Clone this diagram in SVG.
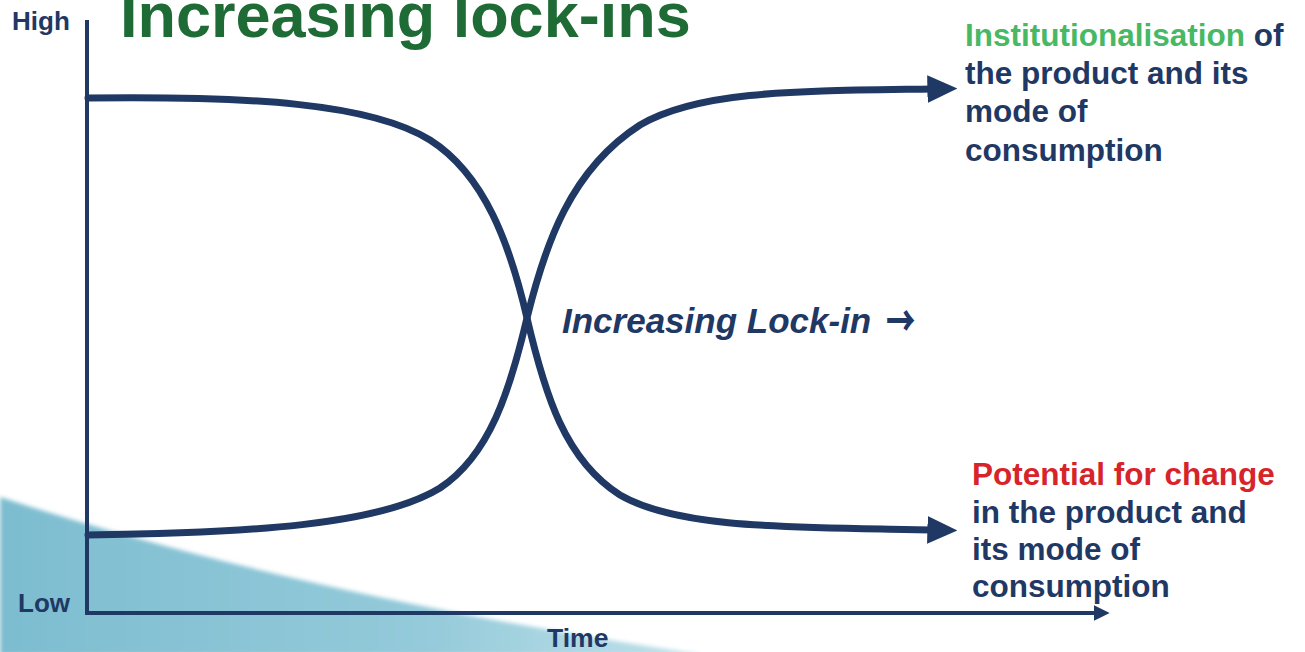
<svg xmlns="http://www.w3.org/2000/svg" width="1305" height="652" viewBox="0 0 1305 652">
  <style>
    .t { font-family: "Liberation Sans", Arial, sans-serif; font-weight: bold; fill: #1f3864; }
    .curve { fill: none; stroke: #1f3864; stroke-width: 7; stroke-linecap: round; }
    .axis { fill: none; stroke: #1f3864; stroke-width: 4; }
  </style>
  <defs>
    <linearGradient id="bg" x1="0" y1="0" x2="1" y2="0">
      <stop offset="0" stop-color="#7dbdd0"/>
      <stop offset="0.6" stop-color="#94cada"/>
      <stop offset="1" stop-color="#c2e2ea"/>
    </linearGradient>
    <filter id="soft" x="-5%" y="-5%" width="110%" height="110%">
      <feGaussianBlur stdDeviation="2"/>
    </filter>
    <marker id="bigArrow" markerUnits="userSpaceOnUse" markerWidth="30" markerHeight="30" viewBox="0 0 26 24" refX="4" refY="12" orient="auto">
      <path d="M0,0 L26,12 L0,24 Z" fill="#1f3864"/>
    </marker>
    <marker id="axisArrow" markerUnits="userSpaceOnUse" markerWidth="16" markerHeight="16" viewBox="0 0 14 14" refX="2" refY="7" orient="auto">
      <path d="M0,0 L14,7 L0,14 Z" fill="#1f3864"/>
    </marker>
  </defs>
  <rect width="1305" height="652" fill="#ffffff"/>
  <path d="M0,497 Q300,595 705,655 L0,655 Z" fill="url(#bg)" filter="url(#soft)"/>

  <g id="title">
    <text class="t" x="120" y="37" font-size="63" style="fill:#1e6b35">Increasing lock-ins</text>
  </g>

  <g id="axes">
    <line class="axis" x1="87" y1="20" x2="87" y2="615"/>
    <line class="axis" x1="85" y1="613" x2="1096" y2="613" marker-end="url(#axisArrow)"/>
    <text class="t" x="12" y="30" font-size="26">High</text>
    <text class="t" x="18" y="612" font-size="26">Low</text>
    <text class="t" x="547" y="647" font-size="26.5">Time</text>
  </g>

  <g id="connectors">
    <path class="curve" d="M88,98 C250,96 370,103 430,140 C485,175 510,245 527,318 C545,395 565,460 620,495 C680,530 800,527 932,530" marker-end="url(#bigArrow)"/>
    <path class="curve" d="M88,535 C250,533 380,525 440,488 C490,455 510,390 527,318 C545,245 570,170 640,125 C700,90 800,91 932,89" marker-end="url(#bigArrow)"/>
  </g>

  <g id="center-label">
    <text class="t" x="562" y="333" font-size="35" font-style="italic">Increasing Lock-in</text>
    <text class="t" transform="translate(886,336) scale(0.7,1)" font-size="42" style="font-family:'Noto Sans CJK SC','DejaVu Sans',sans-serif;font-weight:900">→</text>
  </g>

  <g id="label-institutionalisation">
    <text class="t" x="965" y="46" font-size="31.5"><tspan style="fill:#47b864">Institutionalisation</tspan> of</text>
    <text class="t" x="965" y="84" font-size="31.5">the product and its</text>
    <text class="t" x="965" y="122" font-size="31.5">mode of</text>
    <text class="t" x="965" y="161" font-size="31.5">consumption</text>
  </g>

  <g id="label-potential">
    <text class="t" x="972" y="485" font-size="31.5" style="fill:#d7242a">Potential for change</text>
    <text class="t" x="972" y="523" font-size="31.5">in the product and</text>
    <text class="t" x="972" y="560" font-size="31.5">its mode of</text>
    <text class="t" x="972" y="597" font-size="31.5">consumption</text>
  </g>
</svg>
